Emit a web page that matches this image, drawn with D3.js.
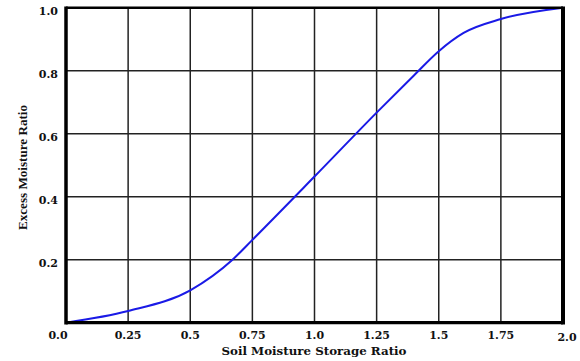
<!DOCTYPE html>
<html><head><meta charset="utf-8">
<script src="https://cdn.jsdelivr.net/npm/d3@7/dist/d3.min.js"></script>
<style>html,body{margin:0;padding:0;background:#fff;}svg{display:block;}</style>
</head><body>
<script>
const storageRatio = [0, 0.25, 0.5, 0.67, 0.75, 1.0, 1.25, 1.4, 1.5, 1.6, 1.75, 2.0];
const excessRatio  = [0, 0.037, 0.103, 0.20, 0.263, 0.464, 0.667, 0.785, 0.862, 0.92, 0.964, 1.0];
const xTicks = [0, 0.25, 0.5, 0.75, 1.0, 1.25, 1.5, 1.75, 2.0];
const xTickLabels = ["0.0", "0.25", "0.5", "0.75", "1.0", "1.25", "1.5", "1.75", "2.0"];
const yTicks = [0.2, 0.4, 0.6, 0.8, 1.0];
const yTickLabels = ["0.2", "0.4", "0.6", "0.8", "1.0"];
const xTitle = "Soil Moisture Storage Ratio";
const yTitle = "Excess Moisture Ratio";

const W = 580, H = 361;
const svg = d3.select("body").append("svg").attr("width", W).attr("height", H);
const x = d3.scaleLinear().domain([0, 2]).range([66, 563]);
const y = d3.scaleLinear().domain([0, 1]).range([322.7, 7.7]);

// grid
svg.append("g").selectAll("line").data(xTicks.slice(1, -1)).join("line")
  .attr("x1", d => x(d)).attr("x2", d => x(d)).attr("y1", y(1)).attr("y2", y(0))
  .attr("stroke", "#222").attr("stroke-width", 1.5);
svg.append("g").selectAll("line").data(yTicks.slice(0, -1)).join("line")
  .attr("x1", x(0)).attr("x2", x(2)).attr("y1", d => y(d)).attr("y2", d => y(d))
  .attr("stroke", "#222").attr("stroke-width", 1.5);

// curve
const line = d3.line().x((d, i) => x(storageRatio[i])).y(d => y(d)).curve(d3.curveMonotoneX);
svg.append("path").datum(excessRatio).attr("d", line)
  .attr("fill", "none").attr("stroke", "#1a1ae6").attr("stroke-width", 2);

// border
svg.append("line").attr("x1", x(0)).attr("x2", x(2)).attr("y1", y(1)).attr("y2", y(1)).attr("stroke", "#000").attr("stroke-width", 2.5);
svg.append("line").attr("x1", x(0)).attr("x2", x(0)).attr("y1", y(1) - 1.2).attr("y2", y(0) + 1.7).attr("stroke", "#000").attr("stroke-width", 3.5);
svg.append("line").attr("x1", x(2)).attr("x2", x(2)).attr("y1", y(1) - 1.2).attr("y2", y(0) + 1.7).attr("stroke", "#000").attr("stroke-width", 4);
svg.append("line").attr("x1", x(0)).attr("x2", x(2)).attr("y1", y(0)).attr("y2", y(0)).attr("stroke", "#000").attr("stroke-width", 3.2);

const tickFont = "'DejaVu Serif', serif";
// y labels
svg.append("g").selectAll("text").data(yTicks).join("text")
  .attr("x", 58).attr("y", d => y(d) + 7.5)
  .attr("text-anchor", "end").attr("font-family", tickFont).attr("font-weight", "bold")
  .attr("font-size", 11).attr("fill", "#111")
  .text((d, i) => yTickLabels[i]);
// x labels
svg.append("g").selectAll("text").data(xTicks).join("text")
  .attr("x", (d, i) => x(d) + (i === 0 ? -8 : (i === xTicks.length - 1 ? 4 : 0)))
  .attr("y", (d, i) => 338.5 + (i === xTicks.length - 1 ? 2 : 0))
  .attr("text-anchor", "middle").attr("font-family", tickFont).attr("font-weight", "bold")
  .attr("font-size", 11).attr("fill", "#111")
  .text((d, i) => xTickLabels[i]);

// titles
svg.append("text").attr("x", 314).attr("y", 355)
  .attr("text-anchor", "middle").attr("font-family", tickFont).attr("font-weight", "bold")
  .attr("font-size", 11).attr("fill", "#111")
  .attr("textLength", 185).attr("lengthAdjust", "spacingAndGlyphs")
  .text(xTitle);
svg.append("text").attr("transform", "translate(27,167.5) rotate(-90)")
  .attr("text-anchor", "middle").attr("font-family", "'Liberation Serif', serif").attr("font-weight", "bold")
  .attr("font-size", 12).attr("fill", "#111")
  .attr("textLength", 125).attr("lengthAdjust", "spacingAndGlyphs")
  .text(yTitle);
</script>
</body></html>
